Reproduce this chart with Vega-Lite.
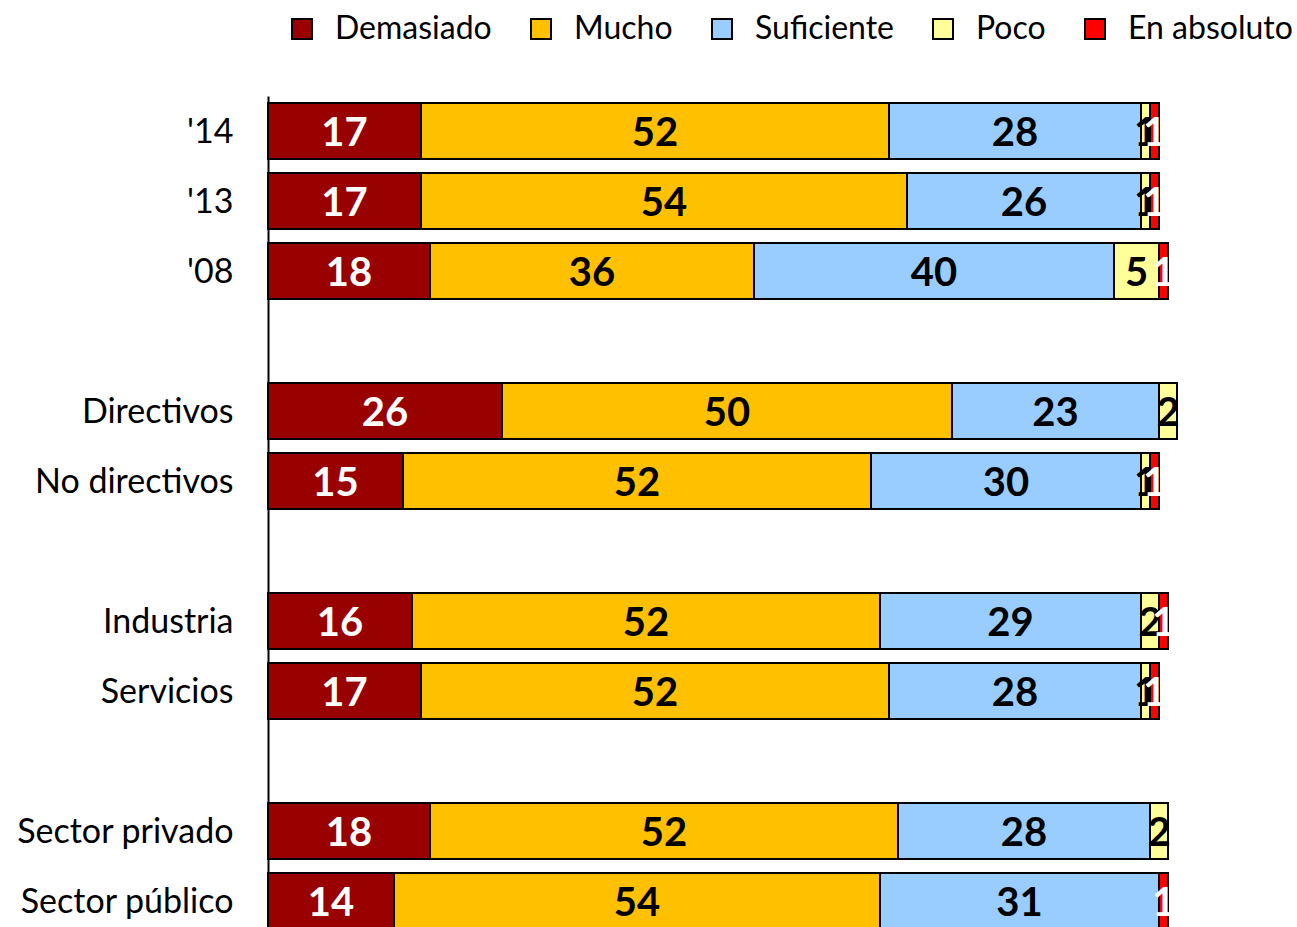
{
  "$schema": "https://vega.github.io/schema/vega-lite/v6.json",
  "width": 900,
  "height": 840,
  "autosize": {"type": "none"},
  "padding": {"left": 268, "top": 96, "right": 129, "bottom": 0},
  "background": "white",
  "config": {"view": {"stroke": null}, "font": "Lato"},
  "data": {
    "values": [
      {"cat": "'14", "resp": "Demasiado", "value": 17},
      {"cat": "'14", "resp": "Mucho", "value": 52},
      {"cat": "'14", "resp": "Suficiente", "value": 28},
      {"cat": "'14", "resp": "Poco", "value": 1},
      {"cat": "'14", "resp": "En absoluto", "value": 1},
      {"cat": "'13", "resp": "Demasiado", "value": 17},
      {"cat": "'13", "resp": "Mucho", "value": 54},
      {"cat": "'13", "resp": "Suficiente", "value": 26},
      {"cat": "'13", "resp": "Poco", "value": 1},
      {"cat": "'13", "resp": "En absoluto", "value": 1},
      {"cat": "'08", "resp": "Demasiado", "value": 18},
      {"cat": "'08", "resp": "Mucho", "value": 36},
      {"cat": "'08", "resp": "Suficiente", "value": 40},
      {"cat": "'08", "resp": "Poco", "value": 5},
      {"cat": "'08", "resp": "En absoluto", "value": 1},
      {"cat": "Directivos", "resp": "Demasiado", "value": 26},
      {"cat": "Directivos", "resp": "Mucho", "value": 50},
      {"cat": "Directivos", "resp": "Suficiente", "value": 23},
      {"cat": "Directivos", "resp": "Poco", "value": 2},
      {"cat": "No directivos", "resp": "Demasiado", "value": 15},
      {"cat": "No directivos", "resp": "Mucho", "value": 52},
      {"cat": "No directivos", "resp": "Suficiente", "value": 30},
      {"cat": "No directivos", "resp": "Poco", "value": 1},
      {"cat": "No directivos", "resp": "En absoluto", "value": 1},
      {"cat": "Industria", "resp": "Demasiado", "value": 16},
      {"cat": "Industria", "resp": "Mucho", "value": 52},
      {"cat": "Industria", "resp": "Suficiente", "value": 29},
      {"cat": "Industria", "resp": "Poco", "value": 2},
      {"cat": "Industria", "resp": "En absoluto", "value": 1},
      {"cat": "Servicios", "resp": "Demasiado", "value": 17},
      {"cat": "Servicios", "resp": "Mucho", "value": 52},
      {"cat": "Servicios", "resp": "Suficiente", "value": 28},
      {"cat": "Servicios", "resp": "Poco", "value": 1},
      {"cat": "Servicios", "resp": "En absoluto", "value": 1},
      {"cat": "Sector privado", "resp": "Demasiado", "value": 18},
      {"cat": "Sector privado", "resp": "Mucho", "value": 52},
      {"cat": "Sector privado", "resp": "Suficiente", "value": 28},
      {"cat": "Sector privado", "resp": "Poco", "value": 2},
      {"cat": "Sector público", "resp": "Demasiado", "value": 14},
      {"cat": "Sector público", "resp": "Mucho", "value": 54},
      {"cat": "Sector público", "resp": "Suficiente", "value": 31},
      {"cat": "Sector público", "resp": "En absoluto", "value": 1}
    ]
  },
  "transform": [
    {"calculate": "indexof(['Demasiado','Mucho','Suficiente','Poco','En absoluto'], datum.resp)", "as": "ord"},
    {"stack": "value", "groupby": ["cat"], "sort": [{"field": "ord", "order": "ascending"}], "as": ["x0", "x1"]},
    {"calculate": "(datum.x0 + datum.x1) / 2", "as": "xm"}
  ],
  "encoding": {
    "y": {
      "field": "cat",
      "type": "nominal",
      "title": null,
      "scale": {
        "domain": ["'14", "'13", "'08", " ", "Directivos", "No directivos", "  ", "Industria", "Servicios", "   ", "Sector privado", "Sector público"],
        "paddingInner": 0.2,
        "paddingOuter": 0.1
      },
      "axis": {
        "ticks": false,
        "labelFontSize": 34,
        "labelFont": "Lato",
        "labelColor": "black",
        "labelPadding": 35,
        "labelLimit": 0,
        "labelOffset": 2,
        "domainColor": "black",
        "domainWidth": 2
      }
    }
  },
  "layer": [
    {
      "mark": {"type": "bar", "stroke": "black", "strokeWidth": 2},
      "encoding": {
        "x": {"field": "x0", "type": "quantitative", "scale": {"domain": [0, 100], "nice": false}, "axis": null},
        "x2": {"field": "x1"},
        "color": {
          "field": "resp",
          "type": "nominal",
          "scale": {
            "domain": ["Demasiado", "Mucho", "Suficiente", "Poco", "En absoluto"],
            "range": ["#990000", "#FFC000", "#99CCFF", "#FFFF99", "#FF0000"]
          },
          "legend": {
            "orient": "none",
            "legendX": 18,
            "legendY": -83,
            "direction": "horizontal",
            "title": null,
            "symbolType": "square",
            "symbolSize": 400,
            "symbolStrokeColor": "black",
            "symbolStrokeWidth": 2,
            "labelFontSize": 32,
            "labelFont": "Lato",
            "labelColor": "black",
            "labelLimit": 0,
            "columnPadding": 33,
            "labelOffset": 17
          }
        }
      }
    },
    {
      "mark": {"type": "text", "fontSize": 40, "fontWeight": "bold", "font": "Lato", "baseline": "middle", "dy": 3},
      "encoding": {
        "x": {"field": "xm", "type": "quantitative"},
        "text": {"field": "value", "type": "quantitative"},
        "color": {
          "condition": {"test": "datum.resp === 'Demasiado' || datum.resp === 'En absoluto'", "value": "white"},
          "value": "black"
        }
      }
    }
  ]
}
